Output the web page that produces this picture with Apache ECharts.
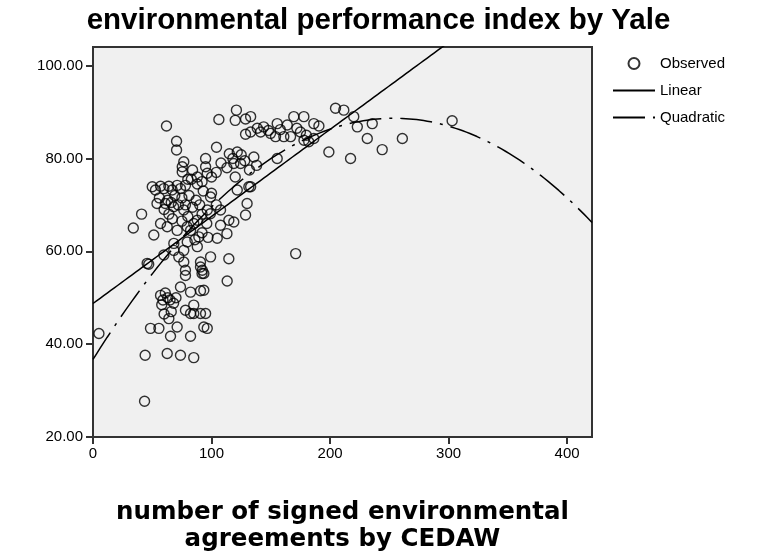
<!DOCTYPE html>
<html>
<head>
<meta charset="utf-8">
<script src="https://cdn.jsdelivr.net/npm/echarts@6/dist/echarts.min.js"></script>
<style>
  html, body { margin: 0; padding: 0; background: #fff; }
</style>
</head>
<body>
<div id="epi" style="width: 757px;height:559px;"></div>
<script>
// agreements signed (x) and EPI score (y)
const agreements = [
  5, 43.5, 44, 34, 41, 47, 62, 70.5, 70.5,
  57, 59, 58, 61, 63, 65, 68, 70, 66, 60, 64,
  48.5, 55.6, 65.4, 71, 82.3, 96.4, 85, 90.7, 78, 82.3, 95,
  62.6, 73.8, 85,
  78, 92, 113.2, 73.8, 82.3, 90.7, 85, 93.5, 93.5,
  51.3, 45.7, 59.8, 68.2, 72.4, 76.6, 78, 90.7, 92.2, 99.2, 114.6, 79.5, 89.3, 82.3, 104.8, 113, 118.8, 68.2, 76.6, 88, 90.7, 93.5, 171,
  52.7, 59.8, 66.8, 73.8, 50, 57, 64, 71, 78,
  54, 61, 68, 76.6, 57, 62.6, 71, 79.5, 88, 96.4, 99.2,
  99, 107.6, 107.6, 114.6, 130, 128.7, 121.7, 133, 131.5,
  56, 60, 63, 66, 69, 72, 75, 78, 81, 84, 87, 90, 93, 80, 85, 75, 67, 64, 88, 83, 92, 96, 100, 104, 86, 92, 97,
  75.3, 75.3, 95, 95, 96.4, 76.6, 104.2, 80, 88, 92, 84, 100, 104, 108,
  113, 118, 121.7, 124.5, 118.8, 135.7, 128, 115, 125, 132, 138, 120,
  106.2, 121, 120, 128.7, 128.7, 133, 138.6, 133,
  144, 155.4, 163.9, 169.4, 177.9, 186.3, 190.6,
  141.4, 149.8, 154, 161, 166.7, 175, 178, 182, 186.3,
  148, 158, 172, 180,
  204.6, 211.6, 220, 223, 235.6, 231.4, 244, 261, 199, 217.3, 155.4, 303
];
const epiScore = [
  42.3, 27.7, 37.6, 65, 68, 57.2, 87, 83.7, 81.8,
  50.5, 49.5, 48.5, 51, 50, 49.5, 48.8, 50, 47, 46.5, 45.5,
  43.4, 43.4, 41.7, 43.7, 41.7, 43.4, 46.6, 46.6, 47.3, 46.6, 46.6,
  38, 37.6, 37.1,
  54.8, 55.2, 53.6, 52.3, 51.2, 51.5, 48.4, 51.6, 43.7,
  63.5, 57.4, 59.2, 60.2, 58.8, 57.7, 55.9, 57.7, 55.9, 58.8, 58.4, 62, 63.1, 64.5, 62.8, 63.8, 66.3, 61.7, 60.2, 61, 56.6, 55.2, 59.5,
  73.2, 73.5, 73.2, 73.5, 73.9, 74, 74, 74.2, 74.2,
  70.3, 70.3, 69.6, 68.9, 66, 65.3, 64.5, 65.3, 66.7, 68.9, 71.7,
  68.1, 68.9, 65.6, 66.7, 70.3, 67.8, 73.2, 73.9, 73.9,
  71.5, 69, 71, 70.5, 72, 70, 71.5, 70, 72, 69.5, 71, 70, 73, 67.5, 66, 66.5, 67, 68, 74.5, 75.5, 68, 66, 72.5, 70, 62.5, 64, 63,
  78.2, 77.1, 80, 78.2, 76.8, 79.3, 82.4, 75.5, 76, 75, 77.5, 76, 77, 79,
  78, 80, 81.4, 78.9, 78.9, 80.3, 79.5, 81, 80.8, 77.5, 78.5, 76,
  88.4, 90.4, 88.2, 88.5, 85.2, 85.7, 86.5, 89,
  86.8, 87.5, 87.2, 89, 89, 87.5, 87,
  85.7, 85.4, 84.7, 84.7, 84.7, 85.7, 83.9, 83.6, 84.3,
  86, 86.2, 86.5, 85,
  90.8, 90.4, 89, 86.8, 87.5, 84.3, 81.9, 84.3, 81.4, 80, 80, 88.1
];

// fitted curves: y = a + b*x (+ c*x^2)
const linearFit = [48.75, 0.1875];
const quadraticFit = [36.7, 0.409, -0.000805];

const xTicks = [0, 100, 200, 300, 400];
const yTicks = [20, 40, 60, 80, 100];

let myChart = echarts.init(document.getElementById('epi'));

let observed = [];
for (let i = 0; i < agreements.length; i++) {
  observed.push([agreements[i], epiScore[i]]);
}

let linearLine = [];
let quadLine = [];
for (let x = 0; x <= 421; x += 3) {
  linearLine.push([x, linearFit[0] + linearFit[1] * x]);
  quadLine.push([x, quadraticFit[0] + quadraticFit[1] * x + quadraticFit[2] * x * x]);
}
linearLine.push([421, linearFit[0] + linearFit[1] * 421]);
quadLine.push([421, quadraticFit[0] + quadraticFit[1] * 421 + quadraticFit[2] * 421 * 421]);

const frame = '#333';
const font = 'Liberation Sans, Arial, sans-serif';

let option = {
  animation: false,
  title: {
    text: 'environmental performance index by Yale',
    left: 'center',
    top: 1,
    textStyle: {
      fontFamily: font,
      fontSize: 29.5,
      fontWeight: 'bold',
      color: '#000'
    }
  },
  legend: {
    orient: 'vertical',
    left: 607,
    top: 51,
    itemWidth: 42,
    itemHeight: 11,
    itemGap: 12,
    textStyle: { fontFamily: font, fontSize: 15, color: '#000' },
    data: [
      { name: 'Observed', icon: 'circle' },
      { name: 'Linear', itemStyle: { opacity: 0 } },
      { name: 'Quadratic', itemStyle: { opacity: 0 } }
    ]
  },
  grid: {
    left: 93,
    right: 165,
    top: 47,
    bottom: 122,
    show: true,
    backgroundColor: '#f0f0f0',
    borderColor: frame,
    borderWidth: 2
  },
  xAxis: {
    type: 'value',
    min: 0,
    max: 421,
    interval: 100,
    name: 'number of signed environmental\nagreements by CEDAW',
    nameLocation: 'middle',
    nameGap: 62,
    nameTextStyle: {
      fontFamily: 'DejaVu Sans',
      fontSize: 24.5,
      fontWeight: 'bold',
      lineHeight: 27,
      color: '#000'
    },
    splitLine: { show: false },
    axisLine: { lineStyle: { color: frame, width: 2 } },
    axisTick: { length: 7, lineStyle: { color: frame, width: 2 }, customValues: xTicks },
    axisLabel: {
      customValues: xTicks,
      margin: 9,
      fontFamily: font,
      fontSize: 15,
      color: '#000'
    }
  },
  yAxis: {
    type: 'value',
    min: 20,
    max: 104,
    interval: 20,
    splitLine: { show: false },
    axisLine: { show: true, lineStyle: { color: frame, width: 2 } },
    axisTick: { show: true, length: 7, lineStyle: { color: frame, width: 2 }, customValues: yTicks },
    axisLabel: {
      customValues: yTicks,
      margin: 10,
      fontFamily: font,
      fontSize: 15,
      color: '#000',
      formatter: function (v) { return v.toFixed(2); }
    }
  },
  series: [
    {
      name: 'Observed',
      type: 'scatter',
      data: observed,
      symbol: 'circle',
      symbolSize: 10,
      itemStyle: {
        color: 'rgba(0,0,0,0)',
        borderColor: '#000',
        borderWidth: 1.4
      },
      z: 3
    },
    {
      name: 'Linear',
      type: 'line',
      data: linearLine,
      showSymbol: false,
      symbol: 'none',
      lineStyle: { color: '#000', width: 1.5 },
      itemStyle: { color: '#000' },
      z: 2
    },
    {
      name: 'Quadratic',
      type: 'line',
      data: quadLine,
      showSymbol: false,
      symbol: 'none',
      lineStyle: { color: '#000', width: 1.5, type: [32, 8, 3, 8] },
      itemStyle: { color: '#000' },
      z: 2
    }
  ]
};

myChart.setOption(option);
</script>
</body>
</html>
